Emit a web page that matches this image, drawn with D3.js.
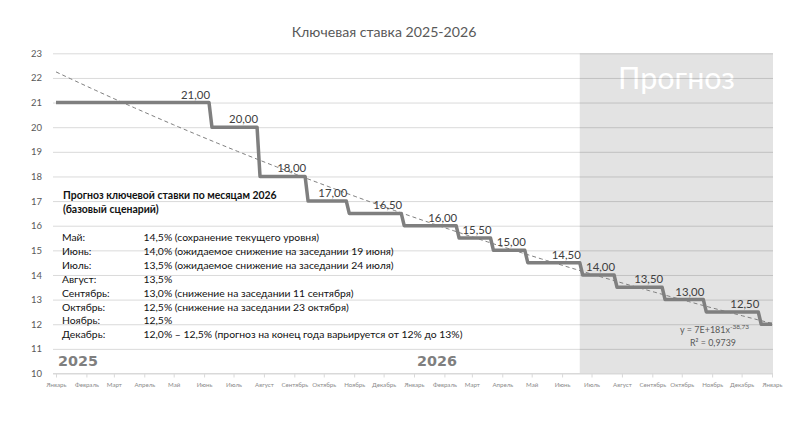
<!DOCTYPE html>
<html><head><meta charset="utf-8">
<script src="https://cdn.jsdelivr.net/npm/d3@7"></script>
<style>html,body{margin:0;padding:0;background:#fff;}svg{display:block;}</style>
</head><body>
<svg id="chart" width="812" height="427"></svg>
<script>
// ---- data ----
const title = "Ключевая ставка 2025-2026";
const monthNames = ["Январь","Февраль","Март","Апрель","Май","Июнь","Июль","Август","Сентябрь","Октябрь","Ноябрь","Декабрь"];
const tickMonths = ["2025-01-01","2025-02-01","2025-03-01","2025-04-01","2025-05-01","2025-06-01","2025-07-01","2025-08-01","2025-09-01","2025-10-01","2025-11-01","2025-12-01",
  "2026-01-01","2026-02-01","2026-03-01","2026-04-01","2026-05-01","2026-06-01","2026-07-01","2026-08-01","2026-09-01","2026-10-01","2026-11-01","2026-12-01","2027-01-01"];
const yTicks = [10,11,12,13,14,15,16,17,18,19,20,21,22,23];
const levelStart = ["2025-01-01","2025-06-09","2025-07-28","2025-09-15","2025-10-27","2025-12-22","2026-02-16","2026-03-23","2026-04-27","2026-06-22","2026-07-27","2026-09-14","2026-10-26","2026-12-21"];
const levelEnd   = ["2025-06-06","2025-07-25","2025-09-12","2025-10-24","2025-12-19","2026-02-13","2026-03-20","2026-04-24","2026-06-19","2026-07-24","2026-09-11","2026-10-23","2026-12-18","2027-01-01"];
const rates      = [21,20,18,17,16.5,16,15.5,15,14.5,14,13.5,13,12.5,12];
const rateLabels = ["21,00","20,00","18,00","17,00","16,50","16,00","15,50","15,00","14,50","14,00","13,50","13,00","12,50",""];
const forecastStart = "2026-06-19";
const forecastLabel = "Прогноз";
const yearLabels = ["2025","2026"];
const yearDates = ["2025-01-01","2026-01-01"];
const trendExponent = -38.73;
const trendEquation = ["y = 7E+181x", "-38,73"];
const trendR2 = "R² = 0,9739";
const noteTitle = ["Прогноз ключевой ставки по месяцам 2026", "(базовый сценарий)"];
const noteMonths = ["Май:","Июнь:","Июль:","Август:","Сентябрь:","Октябрь:","Ноябрь:","Декабрь:"];
const noteValues = ["14,5% (сохранение текущего уровня)",
  "14,0% (ожидаемое снижение на заседании 19 июня)",
  "13,5% (ожидаемое снижение на заседании 24 июля)",
  "13,5%",
  "13,0% (снижение на заседании 11 сентября)",
  "12,5% (снижение на заседании 23 октября)",
  "12,5%",
  "12,0% – 12,5% (прогноз на конец года варьируется от 12% до 13%)"];

// ---- chart ----
const parse = d3.utcParse("%Y-%m-%d");
const svg = d3.select("#chart");
const FONT = "Lato, 'Open Sans', sans-serif";
const plotLeft = 53, plotRight = 773, plotTop = 53.3, plotBottom = 373.5;

// scale font size of a selection so a reference node reaches the target width
function fitFont(sel, refNode, target) {
  const fs = parseFloat(d3.select(refNode).attr("font-size"));
  const w = refNode.getComputedTextLength();
  const nfs = fs * target / w;
  sel.attr("font-size", nfs);
  return nfs;
}

const x = d3.scaleUtc().domain([parse("2025-01-01"), parse("2027-01-01")]).range([56, 772]);
const y = d3.scaleLinear().domain([10, 23]).range([plotBottom, plotTop]);

// forecast shading
svg.append("rect")
  .attr("x", x(parse(forecastStart))).attr("y", plotTop)
  .attr("width", plotRight - x(parse(forecastStart))).attr("height", plotBottom - plotTop)
  .attr("fill", "#e3e3e3");

const fl = svg.append("text").attr("x", 618).attr("y", 89)
  .attr("font-family", FONT).attr("font-size", 29)
  .attr("fill", "#ffffff").text(forecastLabel);
fitFont(fl, fl.node(), 117);

// gridlines
const yAxis = d3.axisLeft(y).tickValues(yTicks).tickSize(-(plotRight - plotLeft)).tickPadding(11);
const gy = svg.append("g").attr("transform", `translate(${plotLeft},0)`).call(yAxis);
gy.select(".domain").remove();
gy.selectAll(".tick line").attr("stroke", "rgba(0,0,0,0.15)").attr("stroke-width", 1);
gy.selectAll(".tick text").attr("font-family", FONT).attr("font-size", 9.5).attr("fill", "#595959");

// x axis
const xAxis = d3.axisBottom(x).tickValues(tickMonths.map(parse))
  .tickFormat((d, i) => monthNames[d.getUTCMonth()]).tickSize(4).tickPadding(5);
const gx = svg.append("g").attr("transform", `translate(0,${plotBottom})`).call(xAxis);
gx.select(".domain").attr("d", `M${plotLeft},0H${plotRight}`).attr("stroke", "#d9d9d9");
gx.selectAll(".tick line").attr("stroke", "#d9d9d9");
const xt = gx.selectAll(".tick text").attr("font-family", FONT).attr("font-size", 6.5).attr("fill", "#8a8a8a");
fitFont(xt, xt.nodes()[0], 20);

// step line data
const pts = [];
rates.forEach((r, i) => {
  pts.push({d: parse(levelStart[i]), v: r});
  pts.push({d: parse(levelEnd[i]), v: r});
});

// trendline (power fit with given exponent, intercept fitted over daily samples)
const excelSerial = d => (d - Date.UTC(1899, 11, 30)) / 86400000;
const daily = [];
for (let i = 0; i < rates.length; i++) {
  const s = parse(levelStart[i]), e = parse(levelEnd[i]);
  for (let t = +s; t <= +e; t += 86400000) daily.push({d: new Date(t), v: rates[i]});
}
const lnA = d3.mean(daily, p => Math.log(p.v) - trendExponent * Math.log(excelSerial(p.d)));
const trendPts = d3.utcDays(parse("2025-01-01"), parse("2027-01-02"), 5).map(d => ({d, v: Math.exp(lnA + trendExponent * Math.log(excelSerial(d)))}));
svg.append("path").datum(trendPts)
  .attr("d", d3.line().x(p => x(p.d)).y(p => y(p.v)))
  .attr("fill", "none").attr("stroke", "#7f7f7f").attr("stroke-width", 1).attr("stroke-dasharray", "4,3");

svg.append("path").datum(pts)
  .attr("d", d3.line().x(p => x(p.d)).y(p => y(p.v)))
  .attr("fill", "none").attr("stroke", "#7f7f7f").attr("stroke-width", 3.5).attr("stroke-linejoin", "round");

// data labels
const dl = svg.append("g").selectAll("text").data(rates.map((r, i) => ({r, i})).filter(o => rateLabels[o.i]))
  .join("text")
  .attr("x", o => x(parse(levelEnd[o.i])) + 1)
  .attr("y", o => y(o.r) - 4)
  .attr("text-anchor", "end").attr("font-family", FONT).attr("font-size", 11.5).attr("fill", "#404040")
  .text(o => rateLabels[o.i]);
fitFont(dl, dl.nodes()[0], 29);

// year labels
const yl = svg.append("g").selectAll("text").data(yearLabels).join("text")
  .attr("x", (d, i) => x(parse(yearDates[i])) + (i === 0 ? 2 : 3))
  .attr("y", 366)
  .attr("font-family", "'DejaVu Sans', sans-serif").attr("font-weight", 900).attr("font-size", 14.5)
  .attr("fill", "#7f7f7f").text(d => d);
fitFont(yl, yl.nodes()[0], 40);

// title
const tt = svg.append("text").attr("x", 384).attr("y", 37).attr("text-anchor", "middle")
  .attr("font-family", FONT).attr("font-size", 14).attr("fill", "#595959").text(title);
fitFont(tt, tt.node(), 185);

// note
const note = svg.append("g").attr("font-family", FONT).attr("fill", "#111");
const nt = note.selectAll("text.nt").data(noteTitle).join("text").attr("class", "nt")
  .attr("x", 63).attr("y", (d, i) => 199 + i * 14)
  .attr("font-weight", 700).attr("font-size", 10.5).text(d => d);
fitFont(nt, nt.nodes()[0], 214);
const nm = note.selectAll("text.nm").data(noteMonths).join("text").attr("class", "nm")
  .attr("x", 62).attr("y", (d, i) => 241 + i * 13.9).attr("font-size", 10.5).text(d => d);
const nv = note.selectAll("text.nv").data(noteValues).join("text").attr("class", "nv")
  .attr("x", 143.5).attr("y", (d, i) => 241 + i * 13.9).attr("font-size", 10.5).text(d => d);
const vfs = fitFont(nv, nv.nodes()[7], 319);
nm.attr("font-size", vfs);

// trend equation
const eq = svg.append("text").attr("x", 680).attr("y", 333).attr("font-family", FONT)
  .attr("font-size", 9).attr("fill", "#595959");
const eq1 = eq.append("tspan").text(trendEquation[0]);
eq.append("tspan").attr("dy", -4).attr("font-size", 6.5).text(trendEquation[1]);
const r2 = svg.append("text").attr("x", 713).attr("y", 345.5).attr("text-anchor", "middle").attr("font-family", FONT)
  .attr("font-size", 9).attr("fill", "#595959").text(trendR2);
fitFont(r2, r2.node(), 46);
</script>
</body></html>
